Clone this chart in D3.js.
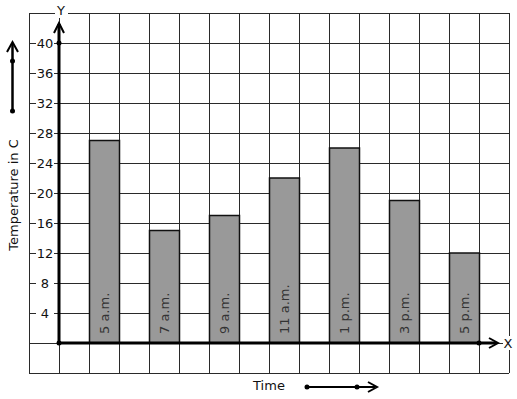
<!DOCTYPE html>
<html><head><meta charset="utf-8">
<script src="https://cdn.jsdelivr.net/npm/d3@7"></script>
<style>
html,body{margin:0;padding:0;background:#fff;}
text{font-family:"DejaVu Sans",sans-serif;}
</style></head>
<body>
<svg id="c" width="517" height="399"></svg>
<script>
const categories = ["5 a.m.","7 a.m.","9 a.m.","11 a.m.","1 p.m.","3 p.m.","5 p.m."];
const temperatures = [27, 15, 17, 22, 26, 19, 12];
const yTicks = [4, 8, 12, 16, 20, 24, 28, 32, 36, 40];
const gridRows = d3.range(-4, 45, 4);
const gridCols = d3.range(0, 17, 1);

const svg = d3.select("#c");
const y = d3.scaleLinear().domain([0, 40]).range([343, 43]);
const gx = d3.scaleLinear().domain([0, 16]).range([29, 509]);
const x = d3.scaleBand().domain(categories).range([gx(1), gx(15)])
  .paddingInner(0.5).paddingOuter(0.25).align(1);
const x0 = gx(1);

// grid
const grid = svg.append("g").attr("stroke", "#2a2a2a").attr("stroke-width", 1).attr("shape-rendering","crispEdges");
grid.selectAll("line.h").data(gridRows).join("line")
  .attr("x1", gx(0)).attr("x2", gx(16))
  .attr("y1", d => Math.round(y(d)) + 0.5).attr("y2", d => Math.round(y(d)) + 0.5);
grid.selectAll("line.v").data(gridCols).join("line")
  .attr("x1", d => gx(d) + 0.5).attr("x2", d => gx(d) + 0.5)
  .attr("y1", y(44)).attr("y2", y(-4));

// bars
svg.append("g").selectAll("rect").data(categories).join("rect")
  .attr("x", d => x(d) + 0.5)
  .attr("y", (d, i) => y(temperatures[i]))
  .attr("width", x.bandwidth())
  .attr("height", (d, i) => y(0) - y(temperatures[i]))
  .attr("fill", "#999999").attr("stroke", "#111").attr("stroke-width", 1.5);

// bar labels
svg.append("g").selectAll("text").data(categories).join("text")
  .attr("transform", d => `translate(${x(d) + x.bandwidth() / 2 + 5},${y(0) - 9}) rotate(-90)`)
  .attr("font-size", 13).attr("fill", "#333").attr("text-anchor", "start")
  .text(d => d);

// y tick labels with white background
const tg = svg.append("g");
yTicks.forEach(t => {
  tg.append("rect").attr("x", 36).attr("y", y(t) - 7).attr("width", 18).attr("height", 14).attr("fill", "#fff");
  tg.append("text").attr("x", 45).attr("y", y(t) + 5).attr("text-anchor", "middle")
    .attr("font-size", 13).attr("fill", "#111").text(t);
});

// axes
const ax = svg.append("g").attr("stroke", "#000").attr("fill", "none");
ax.append("line").attr("x1", x0).attr("x2", x0).attr("y1", y(0)).attr("y2", 24).attr("stroke-width", 3);
ax.append("polyline").attr("points", `${x0-5},33 ${x0},23 ${x0+5},33`).attr("stroke-width", 2);
ax.append("line").attr("x1", x0).attr("x2", 496).attr("y1", y(0)).attr("y2", y(0)).attr("stroke-width", 3);
ax.append("polyline").attr("points", `489,${y(0)-5} 498,${y(0)} 489,${y(0)+5}`).attr("stroke-width", 2);

const dots = svg.append("g").attr("fill", "#000");
dots.append("circle").attr("cx", x0).attr("cy", y(0)).attr("r", 2.5);
dots.append("circle").attr("cx", x0).attr("cy", y(40)).attr("r", 2.5);
dots.append("circle").attr("cx", gx(15)).attr("cy", y(0)).attr("r", 2.5);

// axis letters
svg.append("rect").attr("x", 55).attr("y", 4).attr("width", 13).attr("height", 14).attr("fill", "#fff");
svg.append("text").attr("x", 61).attr("y", 15).attr("text-anchor", "middle").attr("font-size", 13).attr("fill", "#111").text("Y");
svg.append("rect").attr("x", 503).attr("y", y(0) - 7).attr("width", 10).attr("height", 14).attr("fill", "#fff");
svg.append("text").attr("x", 508).attr("y", y(0) + 5).attr("text-anchor", "middle").attr("font-size", 13).attr("fill", "#111").text("X");

// y title and arrow
svg.append("text").attr("transform", "translate(18,195) rotate(-90)").attr("text-anchor", "middle")
  .attr("font-size", 13).attr("fill", "#111").text("Temperature in C");
const la = svg.append("g").attr("stroke", "#000").attr("fill", "none");
la.append("line").attr("x1", 12.5).attr("x2", 12.5).attr("y1", 111).attr("y2", 43).attr("stroke-width", 2.5);
la.append("polyline").attr("points", "7,52 12.5,42 18,52").attr("stroke-width", 2);
svg.append("circle").attr("cx", 12.5).attr("cy", 61).attr("r", 2.5);
svg.append("circle").attr("cx", 12.5).attr("cy", 111).attr("r", 2.5);

// x title and arrow
svg.append("text").attr("x", 269).attr("y", 390).attr("text-anchor", "middle").attr("font-size", 13).attr("fill", "#111").text("Time");
const ta = svg.append("g").attr("stroke", "#000").attr("fill", "none");
ta.append("line").attr("x1", 307).attr("x2", 375).attr("y1", 387).attr("y2", 387).attr("stroke-width", 2);
ta.append("polyline").attr("points", "368,382 377,387 368,392").attr("stroke-width", 2);
svg.append("circle").attr("cx", 307).attr("cy", 387).attr("r", 2.5);
svg.append("circle").attr("cx", 357).attr("cy", 387).attr("r", 2.5);
</script>
</body></html>
